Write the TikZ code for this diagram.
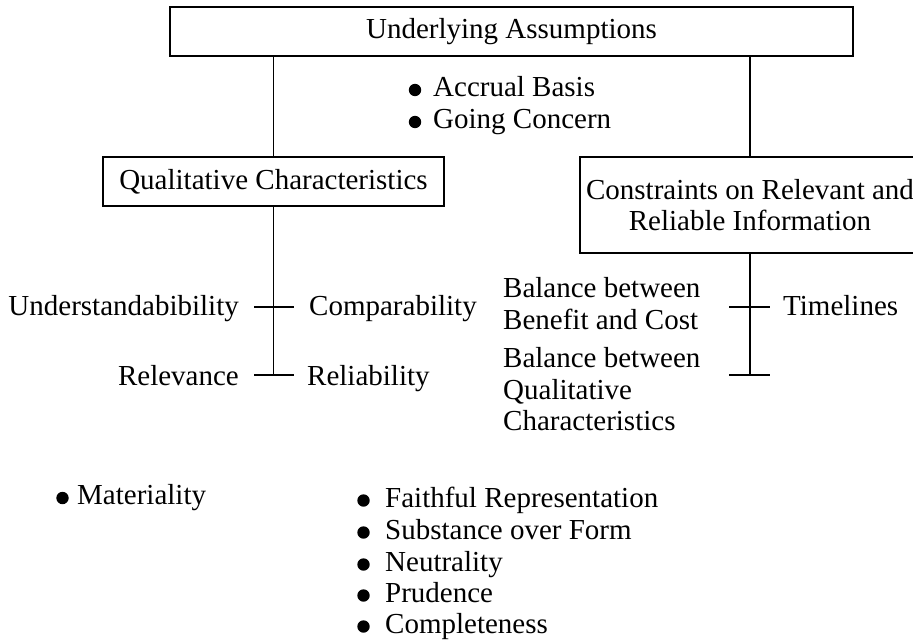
\documentclass[tikz,border=0pt]{standalone}
\usepackage{fontspec}
\setmainfont{Liberation Serif}
\newcommand\mainsz{\fontsize{29}{31.5}\selectfont}
\begin{document}
\begin{tikzpicture}[x=1pt,y=-1pt,
  every node/.style={inner sep=0pt,font=\mainsz},
  boxn/.style={draw,line width=2.6pt,align=center},
  conn/.style={line width=1.8pt},
  lab/.style={anchor=base west},
  labr/.style={anchor=base east},
  bulr/.style={radius=6.2pt}]
\useasboundingbox (0,0) rectangle (913,640);
% boxes
\node[boxn,minimum width=683pt,minimum height=49pt] (ua) at (511.5,31.5) {Underlying Assumptions};
\node[boxn,minimum width=341pt,minimum height=49pt] (qc) at (273.5,181.5) {Qualitative Characteristics};
\node[boxn,minimum width=340pt,minimum height=96pt] (cr) at (750,205) {Constraints on Relevant and\\Reliable Information};
% connectors from top box
\draw[conn] (ua.south -| qc.north) -- (qc.north);
\draw[conn] (ua.south -| cr.north) -- (cr.north);
% bullets under top box
\node[lab] (ab) at (433,96) {Accrual Basis};
\node[lab] (gc) at (433,128) {Going Concern};
\fill[bulr] ([shift={(-18pt,6pt)}]ab.base west) circle;
\fill[bulr] ([shift={(-18pt,6pt)}]gc.base west) circle;
% left trunk
\coordinate (lt2) at (273.5,375);
\draw[conn] (qc.south) -- (lt2);
\coordinate (l1a) at (254,307); \coordinate (l1b) at (294,307);
\coordinate (l2a) at (254,375); \coordinate (l2b) at (294,375);
\draw[conn] (l1a) -- (l1b);
\draw[conn] (l2a) -- (l2b);
\node[labr] (und) at (239,315) {Understandabibility};
\node[lab] (comp) at (309,315) {Comparability};
\node[labr] (rel) at (239,385) {Relevance};
\node[lab] (reli) at (307,385) {Reliability};
% right trunk
\coordinate (rt2) at (750,375);
\draw[conn] (cr.south) -- (rt2);
\coordinate (r1a) at (729,307); \coordinate (r1b) at (770,307);
\coordinate (r2a) at (729,375); \coordinate (r2b) at (770,375);
\draw[conn] (r1a) -- (r1b);
\draw[conn] (r2a) -- (r2b);
\node[lab] (bb1) at (503,297) {Balance between};
\node[lab] (bb2) at (503,329) {Benefit and Cost};
\node[lab] (tl) at (783,315) {Timelines};
\node[lab] (bq1) at (503,367) {Balance between};
\node[lab] (bq2) at (503,399) {Qualitative};
\node[lab] (bq3) at (503,430) {Characteristics};
% bottom lists
\node[lab] (mat) at (77,504) {Materiality};
\fill[bulr] ([shift={(-14.5pt,6pt)}]mat.base west) circle;
\node[lab] (fr) at (385,507) {Faithful Representation};
\node[lab] (sf) at (385,539) {Substance over Form};
\node[lab] (ne) at (385,571) {Neutrality};
\node[lab] (pr) at (385,602) {Prudence};
\node[lab] (co) at (385,633) {Completeness};
\foreach \n in {fr,sf,ne,pr,co}
  \fill[bulr] ([shift={(-21.5pt,6.5pt)}]\n.base west) circle;
\end{tikzpicture}
\end{document}
